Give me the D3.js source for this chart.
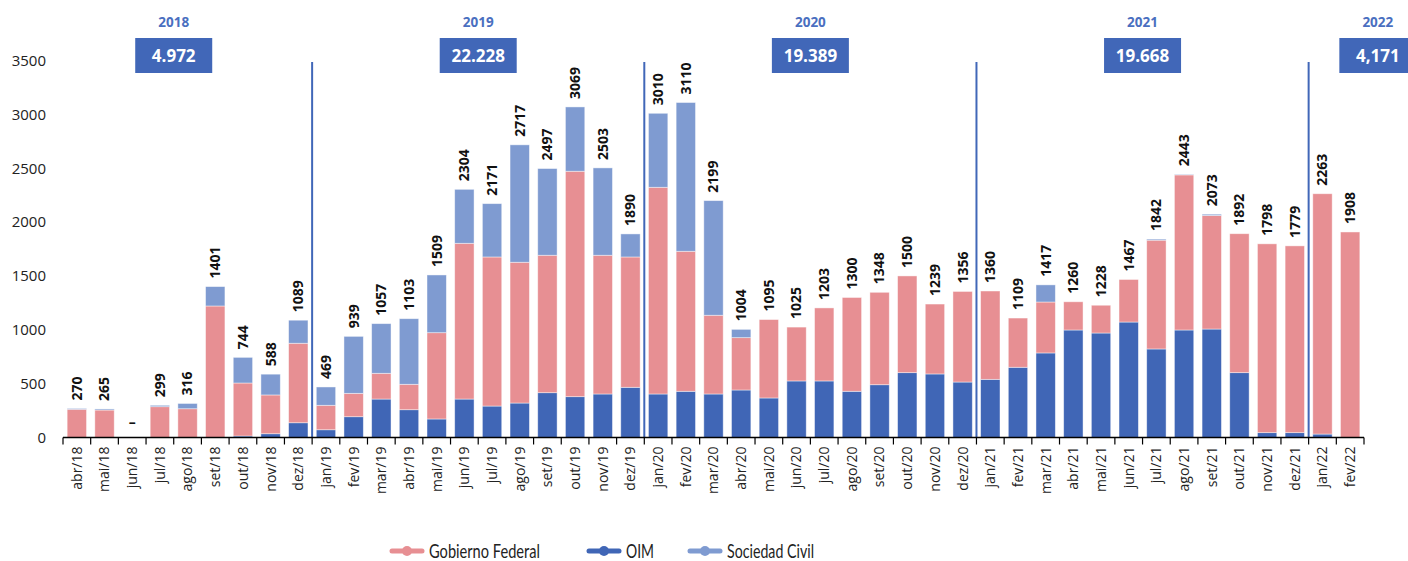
<!DOCTYPE html>
<html>
<head>
<meta charset="utf-8">
<script src="https://cdn.jsdelivr.net/npm/d3@7"></script>
<style>
    body { margin: 0; background: #fff; }
    svg { display: block; }
    .tick-label { font-family: "Open Sans", sans-serif; font-size: 14px; fill: #222; }
    .y-label { font-family: "Open Sans", sans-serif; font-size: 15px; fill: #222; }
    .value-label { font-family: "Open Sans", sans-serif; font-size: 14px; font-weight: 700; fill: #111; }
    .year-label { font-family: "Open Sans", sans-serif; font-size: 13.5px; font-weight: 700; fill: #4a6fc0; }
    .year-total { font-family: "Open Sans", sans-serif; font-size: 17px; font-weight: 700; fill: #fff; }
    .legend-text { font-family: "Lato", sans-serif; font-size: 19px; fill: #222; }
</style>
</head>
<body>
<div id="chart"></div>
<script>
// months shown on the x axis
const months = [
    'abr/18', 'mai/18', 'jun/18', 'jul/18', 'ago/18', 'set/18', 'out/18', 'nov/18', 'dez/18',
    'jan/19', 'fev/19', 'mar/19', 'abr/19', 'mai/19', 'jun/19', 'jul/19', 'ago/19', 'set/19', 'out/19', 'nov/19', 'dez/19',
    'jan/20', 'fev/20', 'mar/20', 'abr/20', 'mai/20', 'jun/20', 'jul/20', 'ago/20', 'set/20', 'out/20', 'nov/20', 'dez/20',
    'jan/21', 'fev/21', 'mar/21', 'abr/21', 'mai/21', 'jun/21', 'jul/21', 'ago/21', 'set/21', 'out/21', 'nov/21', 'dez/21',
    'jan/22', 'fev/22'
];

// stacked from bottom: OIM, Gobierno Federal, Sociedad Civil
const oim = [
    0, 0, 0, 0, 0, 0, 14, 35, 137,
    72, 193, 357, 258, 172, 357, 292, 320, 416, 379, 404, 466,
    404, 429, 404, 441, 367, 525, 525, 429, 490, 602, 590, 515,
    540, 652, 785, 998, 970, 1072, 822, 998, 1007, 602, 45, 45,
    32, 0
];
const gobierno = [
    262, 255, 0, 286, 267, 1221, 492, 360, 738,
    227, 217, 239, 236, 801, 1446, 1384, 1307, 1276, 2093, 1288, 1210,
    1919, 1300, 731, 486, 728, 500, 678, 871, 858, 898, 649, 841,
    820, 457, 473, 262, 258, 395, 1010, 1440, 1054, 1290, 1753, 1734,
    2231, 1908
];
const civil = [
    8, 10, 0, 13, 49, 180, 238, 193, 214,
    170, 529, 461, 609, 536, 501, 495, 1090, 805, 597, 811, 214,
    687, 1381, 1064, 77, 0, 0, 0, 0, 0, 0, 0, 0,
    0, 0, 159, 0, 0, 0, 10, 5, 12, 0, 0, 0,
    0, 0
];

const years = ['2018', '2019', '2020', '2021', '2022'];
const yearTotals = ['4.972', '22.228', '19.389', '19.668', '4,171'];
// first month of each new year (where the separator line goes)
const yearStarts = ['jan/19', 'jan/20', 'jan/21', 'jan/22'];

const seriesNames = ['Gobierno Federal', 'OIM', 'Sociedad Civil'];
const yTicks = [0, 500, 1000, 1500, 2000, 2500, 3000, 3500];

// ---- layout ----
const WIDTH = 1408, HEIGHT = 561;
const LEFT = 63, RIGHT = 1364, TOP = 60.5, BASE = 437.5;
const COLORS = {oim: '#4066b6', gobierno: '#e78f93', civil: '#7f9bd1'};
const BLUE = '#4167b8';
// year header anchors, in category steps from the left edge
const yearAnchor = [4, 15, 27, 39, 47.5];

const rows = months.map((m, i) => ({
    month: m, oim: oim[i], gobierno: gobierno[i], civil: civil[i]
}));

const svg = d3.select('#chart').append('svg')
    .attr('width', WIDTH)
    .attr('height', HEIGHT);

const x = d3.scaleBand()
    .domain(months)
    .range([LEFT, RIGHT])
    .paddingInner(0.3)
    .paddingOuter(0.15);
const step = x.step();
const edge = (m) => x(m) - step * 0.15;

const y = d3.scaleLinear()
    .domain([0, 3500])
    .range([BASE, TOP]);

// y axis, labels only
const yAxis = svg.append('g')
    .attr('transform', `translate(${LEFT - 17},0)`)
    .call(d3.axisLeft(y).tickValues(yTicks).tickFormat(d3.format('d')).tickSize(0).tickPadding(0));
yAxis.select('.domain').remove();
yAxis.selectAll('text').attr('class', 'y-label').attr('fill', null);

// stacked bars
const stack = d3.stack().keys(['oim', 'gobierno', 'civil']);
const layers = stack(rows);

svg.append('g')
    .selectAll('g')
    .data(layers)
    .join('g')
    .attr('fill', (d) => COLORS[d.key])
    .selectAll('rect')
    .data((d) => d)
    .join('rect')
    .attr('x', (d) => x(d.data.month))
    .attr('width', x.bandwidth())
    .attr('y', (d) => y(d[1]))
    .attr('height', (d) => y(d[0]) - y(d[1]))
    .attr('stroke', 'rgba(255,255,255,0.55)')
    .attr('stroke-width', 0.8);

// year separators
svg.append('g')
    .selectAll('line')
    .data(yearStarts)
    .join('line')
    .attr('x1', (d) => edge(d))
    .attr('x2', (d) => edge(d))
    .attr('y1', 62)
    .attr('y2', BASE)
    .attr('stroke', BLUE)
    .attr('stroke-width', 2);

// x axis
const xAxis = svg.append('g')
    .attr('transform', `translate(0,${BASE})`)
    .call(d3.axisBottom(x).tickSize(0).tickPadding(0));
xAxis.select('.domain')
    .attr('d', `M${LEFT},0H${RIGHT}`)
    .attr('stroke', '#000')
    .attr('stroke-width', 1.5);
xAxis.selectAll('.tick text')
    .attr('class', 'tick-label')
    .attr('fill', null)
    .attr('text-anchor', 'end')
    .attr('transform', 'rotate(-90)')
    .attr('x', -9)
    .attr('y', 0)
    .attr('dy', '0.35em');

svg.append('g')
    .selectAll('line')
    .data(months.concat(['__end']))
    .join('line')
    .attr('x1', (d, i) => LEFT + i * step)
    .attr('x2', (d, i) => LEFT + i * step)
    .attr('y1', BASE)
    .attr('y2', BASE + 7)
    .attr('stroke', '#000')
    .attr('stroke-width', 1.2);

// value labels
const totals = rows.map((r) => r.oim + r.gobierno + r.civil);
svg.append('g')
    .selectAll('text')
    .data(rows)
    .join('text')
    .attr('class', 'value-label')
    .attr('transform', (d, i) => {
        const cx = x(d.month) + x.bandwidth() / 2;
        if (totals[i] === 0) return `translate(${cx},${BASE - 15})`;
        return `translate(${cx},${y(totals[i]) - 8}) rotate(-90)`;
    })
    .attr('text-anchor', (d, i) => totals[i] === 0 ? 'middle' : 'start')
    .attr('dy', '0.35em')
    .text((d, i) => totals[i] === 0 ? '–' : totals[i]);

// year headers
const header = svg.append('g')
    .selectAll('g')
    .data(years)
    .join('g')
    .attr('transform', (d, i) => `translate(${LEFT + yearAnchor[i] * step},0)`);

header.append('text')
    .attr('class', 'year-label')
    .attr('y', 27)
    .attr('text-anchor', 'middle')
    .text((d) => d);

header.append('rect')
    .attr('x', -38.5)
    .attr('y', 38)
    .attr('width', 77)
    .attr('height', 35)
    .attr('fill', BLUE);

header.append('text')
    .attr('class', 'year-total')
    .attr('y', 61.5)
    .attr('text-anchor', 'middle')
    .text((d, i) => yearTotals[i]);

// legend (the original font is narrow, so squeeze the text a bit)
const legendX = [392, 589, 690];
const legendWidth = [111, 28, 87];
const legendColors = [COLORS.gobierno, COLORS.oim, COLORS.civil];
const legend = svg.append('g')
    .selectAll('g')
    .data(seriesNames)
    .join('g')
    .attr('transform', (d, i) => `translate(${legendX[i]},551)`);

legend.append('line')
    .attr('x1', 0)
    .attr('x2', 30)
    .attr('stroke', (d, i) => legendColors[i])
    .attr('stroke-width', 5)
    .attr('stroke-linecap', 'round');

legend.append('circle')
    .attr('cx', 15)
    .attr('r', 5)
    .attr('fill', (d, i) => legendColors[i]);

legend.append('text')
    .attr('class', 'legend-text')
    .attr('x', 37)
    .attr('dy', '0.35em')
    .attr('textLength', (d, i) => legendWidth[i])
    .attr('lengthAdjust', 'spacingAndGlyphs')
    .text((d) => d);
</script>
</body>
</html>
